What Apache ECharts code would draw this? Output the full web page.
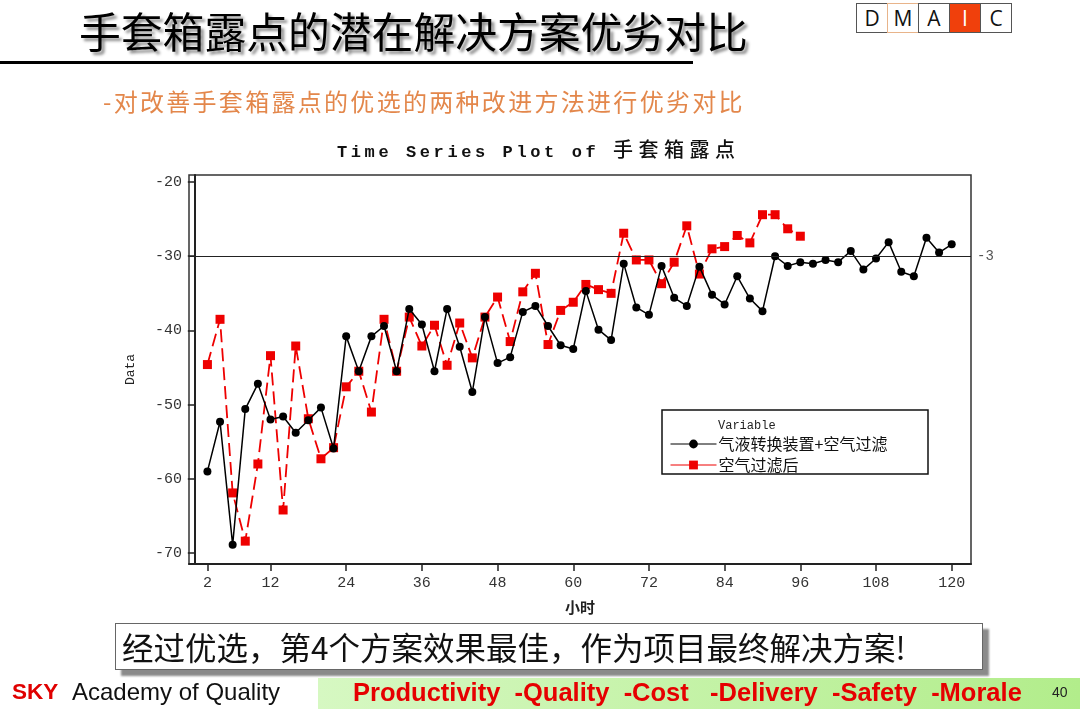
<!DOCTYPE html>
<html>
<head>
<meta charset="utf-8">
<script src="https://cdn.jsdelivr.net/npm/echarts@6/dist/echarts.min.js"></script>
<style>
  html, body { margin: 0; padding: 0; background: #fff; }
  #slide { position: relative; width: 1080px; height: 709px; overflow: hidden; font-family: 'Noto Sans CJK SC', sans-serif; }
  #chart { position: absolute; left: 0; top: 0; width: 1080px; height: 709px; }
  .abs { position: absolute; white-space: nowrap; }
  #mainTitle { left: 79px; top: 2px; font-size: 41.8px; line-height: 56px; font-weight: 400; color: #000; text-shadow: 3px 3px 3px rgba(0,0,0,0.45); }
  #titleRule { left: 0; top: 61px; width: 693px; height: 3px; background: #000; }
  #dmaic { left: 856px; top: 3px; }
  #dmaic span { position: absolute; top: 0; width: 30px; height: 28px; border: 1px solid #555; font: 21px 'Open Sans', sans-serif; text-align: center; line-height: 28px; color: #111; background: #fff; }
  #subTitle { left: 103px; top: 85px; font-size: 24px; letter-spacing: 2.3px; line-height: 32px; color: #e3874b; }
  #chartTitle { left: 337px; top: 134px; font: bold 17px 'Liberation Mono', monospace; letter-spacing: 3.6px; color: #111; }
  #chartTitle .cjk { font-family: 'Noto Sans CJK SC', sans-serif; font-size: 20px; letter-spacing: 5.5px; font-weight: 500; }
  #noteBox { left: 115px; top: 623px; width: 866px; height: 45px; border: 1px solid #666; background: #fff; box-shadow: 6px 6px 2px #8a8a8a; }
  #noteText { left: 122px; top: 624px; font-size: 31.5px; line-height: 44px; color: #111; }
  #sky { left: 12px; top: 676px; font: bold 22.5px 'Liberation Sans', sans-serif; color: #e00000; line-height: 32px; }
  #academy { left: 72px; top: 676px; font: 24px 'Liberation Sans', sans-serif; color: #111; line-height: 32px; }
  #band { left: 318px; top: 678px; width: 762px; height: 31px; background: linear-gradient(to right, #d6f8c2, #b2ed8b); }
  #pqc { left: 353px; top: 676px; font: bold 25.5px 'Liberation Sans', sans-serif; color: #e60000; line-height: 33px; white-space: pre; }
  #pageNo { left: 1052px; top: 684px; font: 14px 'Liberation Sans', sans-serif; color: #222; }
</style>
</head>
<body>
<div id="slide">
  <div id="chart"></div>
  <div class="abs" id="mainTitle">手套箱露点的潜在解决方案优劣对比</div>
  <div class="abs" id="titleRule"></div>
  <div class="abs" id="dmaic">
    <span style="left:0">D</span>
    <span style="left:31px;border-color:#e8b48a">M</span>
    <span style="left:62px">A</span>
    <span style="left:93px;background:#f0400c;color:#fff">I</span>
    <span style="left:124px">C</span>
  </div>
  <div class="abs" id="subTitle">-对改善手套箱露点的优选的两种改进方法进行优劣对比</div>
  <div class="abs" id="chartTitle">Time Series Plot of <span class="cjk">手套箱露点</span></div>
  <div class="abs" id="noteBox"></div>
  <div class="abs" id="noteText">经过优选，第4个方案效果最佳，作为项目最终解决方案!</div>
  <div class="abs" id="sky">SKY</div>
  <div class="abs" id="academy">Academy of Quality</div>
  <div class="abs" id="band"></div>
  <div class="abs" id="pqc">Productivity  -Quality  -Cost   -Delivery  -Safety  -Morale</div>
  <div class="abs" id="pageNo">40</div>
</div>
<script>
// 数据
const hoursA = [2, 4, 6, 8, 10, 12, 14, 16, 18, 20, 22, 24, 26, 28, 30, 32, 34, 36, 38, 40,
  42, 44, 46, 48, 50, 52, 54, 56, 58, 60, 62, 64, 66, 68, 70, 72, 74, 76, 78, 80,
  82, 84, 86, 88, 90, 92, 94, 96, 98, 100, 102, 104, 106, 108, 110, 112, 114, 116, 118, 120];
const gasLiquid = [-59.0, -52.3, -68.9, -50.6, -47.2, -52.0, -51.6, -53.8, -52.1, -50.4,
  -55.9, -40.8, -45.5, -40.8, -39.4, -45.5, -37.1, -39.2, -45.5, -37.1,
  -42.2, -48.3, -38.2, -44.4, -43.6, -37.5, -36.7, -39.4, -42.0, -42.5,
  -34.7, -39.9, -41.3, -31.0, -36.9, -37.9, -31.3, -35.6, -36.7, -31.4,
  -35.2, -36.5, -32.7, -35.7, -37.4, -30.0, -31.3, -30.8, -31.0, -30.5,
  -30.8, -29.3, -31.8, -30.3, -28.1, -32.1, -32.7, -27.5, -29.5, -28.4];
const hoursB = [2, 4, 6, 8, 10, 12, 14, 16, 18, 20, 22, 24, 26, 28, 30, 32, 34, 36, 38, 40,
  42, 44, 46, 48, 50, 52, 54, 56, 58, 60, 62, 64, 66, 68, 70, 72, 74, 76, 78, 80,
  82, 84, 86, 88, 90, 92, 94, 96];
const airFilter = [-44.6, -38.5, -61.9, -68.4, -58.0, -43.4, -64.2, -42.1, -51.9, -57.3,
  -55.8, -47.6, -45.5, -51.0, -38.5, -45.5, -38.2, -42.1, -39.3, -44.7,
  -39.0, -43.7, -38.2, -35.5, -41.5, -34.8, -32.3, -41.9, -37.3, -36.2,
  -33.8, -34.5, -35.0, -26.9, -30.5, -30.5, -33.7, -30.8, -25.9, -32.4,
  -29.0, -28.7, -27.2, -28.2, -24.4, -24.4, -26.3, -27.3];
const xTicks = [2, 12, 24, 36, 48, 60, 72, 84, 96, 108, 120];
const yTicks = [-70, -60, -50, -40, -30, -20];
const refLine = -30;
const nameA = '气液转换装置+空气过滤';
const nameB = '空气过滤后';

const monoFont = "'Liberation Mono', monospace";
const chart = echarts.init(document.getElementById('chart'));

const option = {
  animation: false,
  grid: {
    left: 189, top: 175, width: 782, height: 389,
    show: true, borderColor: '#333', borderWidth: 1.5, backgroundColor: '#fff'
  },
  xAxis: {
    type: 'value', min: -0.92, max: 123.06,
    name: '小时', nameLocation: 'middle', nameGap: 36,
    nameTextStyle: { fontFamily: 'Noto Sans CJK SC', fontWeight: 'bold', fontSize: 15, color: '#222' },
    axisLine: { show: true, lineStyle: { color: '#222', width: 2 } },
    axisTick: { show: true, length: 7, customValues: xTicks, lineStyle: { color: '#222', width: 1.5 } },
    axisLabel: { customValues: xTicks, margin: 12, fontFamily: monoFont, fontSize: 15, color: '#333' },
    splitLine: { show: false }
  },
  yAxis: {
    type: 'value', min: -71.48, max: -19.05,
    name: 'Data', nameLocation: 'middle', nameGap: 52, nameRotate: 90,
    nameTextStyle: { fontFamily: monoFont, fontSize: 13, color: '#222' },
    axisLine: { show: true, lineStyle: { color: '#222', width: 2 } },
    axisTick: { show: true, length: 7, customValues: yTicks, lineStyle: { color: '#222', width: 1.5 } },
    axisLabel: { customValues: yTicks, margin: 7, fontFamily: monoFont, fontSize: 15, color: '#333' },
    splitLine: { show: false }
  },
  legend: {
    orient: 'vertical', left: 665, top: 431, z: 6,
    itemWidth: 46, itemHeight: 11, itemGap: 5,
    textStyle: { fontFamily: 'Noto Sans CJK SC', fontSize: 16, lineHeight: 15, color: '#111', padding: [0, 0, 0, -3] },
    data: [
      { name: nameA, lineStyle: { type: 'solid', width: 1 } },
      { name: nameB, lineStyle: { type: 'solid', width: 1 } }
    ]
  },
  graphic: [
    {
      type: 'rect', z: 5,
      shape: { x: 662, y: 410, width: 266, height: 64 },
      style: { fill: '#fff', stroke: '#111', lineWidth: 1.5 }
    },
    {
      type: 'text', z: 6, left: 718, top: 420,
      style: { text: 'Variable', font: "12px 'Liberation Mono', monospace", fill: '#222' }
    }
  ],
  series: [
    {
      name: nameB, type: 'line', z: 2,
      data: hoursB.map((h, i) => [h, airFilter[i]]),
      symbol: 'rect', symbolSize: 9,
      itemStyle: { color: '#ee0000' },
      lineStyle: { color: '#ee0000', width: 1.8, type: [13, 6] }
    },
    {
      name: nameA, type: 'line', z: 3,
      data: hoursA.map((h, i) => [h, gasLiquid[i]]),
      symbol: 'circle', symbolSize: 8,
      itemStyle: { color: '#000' },
      lineStyle: { color: '#000', width: 1.5 },
      markLine: {
        silent: true, symbol: 'none', animation: false,
        lineStyle: { color: '#222', width: 1, type: 'solid' },
        label: { show: true, position: 'end', distance: 6, formatter: '-3', fontFamily: monoFont, fontSize: 14, color: '#555' },
        data: [{ yAxis: refLine }]
      }
    }
  ]
};
chart.setOption(option);
</script>
</body>
</html>
